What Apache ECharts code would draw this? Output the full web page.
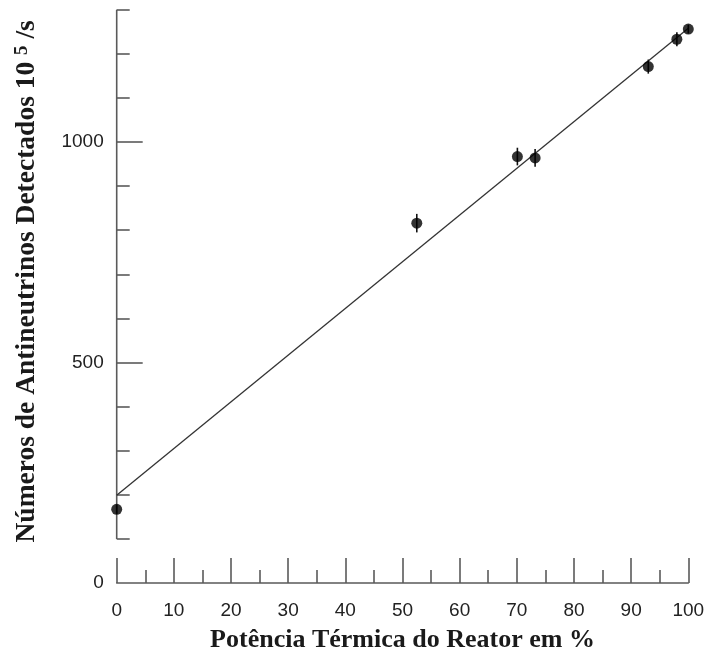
<!DOCTYPE html>
<html>
<head>
<meta charset="utf-8">
<script src="https://cdn.jsdelivr.net/npm/echarts@6/dist/echarts.min.js"></script>
<style>
  html, body { margin: 0; padding: 0; background: #fff; }
  #chart { width: 706px; height: 655px; }
</style>
</head>
<body>
<div id="chart"></div>
<script>
// Measured detector counts versus reactor thermal power
const powerPct = [0, 52.5, 70.1, 73.2, 93.0, 98.0, 100.0];
const counts   = [167, 816, 967, 964, 1171, 1233, 1256];
const countErr = [10, 21, 20, 20, 16, 16, 10];

// Linear fit drawn across the full power range
const fitX = [0, 100];
const fitY = [199, 1258];

// Axis ticks and labels
const xTicks = [0, 10, 20, 30, 40, 50, 60, 70, 80, 90, 100];
const yMajorTicks = [0, 500, 1000];
const yMinorTicks = [100, 200, 300, 400, 600, 700, 800, 900, 1100, 1200, 1300];
const yAxisLineFrom = 100;
const yAxisLineTo = 1300;

const axisColor = '#5a5a5a';
const labelFont = '"Liberation Sans", Arial, sans-serif';
const titleFont = '"Liberation Serif", "Times New Roman", serif';

const chart = echarts.init(document.getElementById('chart'), null, { renderer: 'canvas' });

const option = {
  backgroundColor: '#ffffff',
  animation: false,
  grid: { left: 116.7, right: 17.7, top: 9.7, bottom: 72, outerBoundsMode: 'none', containLabel: false },
  xAxis: {
    type: 'value',
    min: xTicks[0],
    max: xTicks[xTicks.length - 1],
    interval: 10,
    name: 'Potência Térmica do Reator em %',
    nameLocation: 'middle',
    nameGap: 44,
    nameTextStyle: { fontFamily: titleFont, fontWeight: 'bold', fontSize: 26, color: '#1a1a1a' },
    axisLine: { show: true, onZero: false, lineStyle: { color: axisColor, width: 1.6 } },
    axisTick: { show: true, inside: true, length: 25, lineStyle: { color: axisColor, width: 1.6 } },
    minorTick: { show: true, splitNumber: 2, length: 13, lineStyle: { color: axisColor, width: 1.6 } },
    axisLabel: { fontFamily: labelFont, fontSize: 19, color: '#222', margin: 18 },
    splitLine: { show: false }
  },
  yAxis: [
    {
      type: 'value',
      min: 0,
      max: 1300,
      interval: 100,
      position: 'left',
      axisLine: { show: false },
      axisTick: { show: true, inside: true, length: 13, customValues: yMinorTicks,
                  lineStyle: { color: axisColor, width: 1.6 } },
      axisLabel: { show: false },
      splitLine: { show: false }
    },
    {
      type: 'value',
      min: 0,
      max: 1300,
      interval: 100,
      position: 'left',
      name: '{t|Números de Antineutrinos Detectados 10 }{sup|5}{t| /s}',
      nameLocation: 'middle',
      nameGap: 76,
      nameRotate: 90,
      nameTextStyle: {
        padding: [0, 0, 0, 30],
        rich: {
          t: { fontFamily: titleFont, fontWeight: 'bold', fontSize: 27.5, color: '#1a1a1a' },
          sup: { fontFamily: titleFont, fontWeight: 'bold', fontSize: 19, color: '#1a1a1a', verticalAlign: 'top' }
        }
      },
      axisLine: { show: false },
      axisTick: { show: true, inside: true, length: 26, customValues: yMajorTicks.filter(v => v > 0),
                  lineStyle: { color: axisColor, width: 1.6 } },
      axisLabel: { customValues: yMajorTicks, formatter: v => String(v),
                   fontFamily: labelFont, fontSize: 19, color: '#222', margin: 13 },
      splitLine: { show: false }
    }
  ],
  series: [
    {
      name: 'ajuste',
      type: 'line',
      data: fitX.map((x, i) => [x, fitY[i]]),
      showSymbol: false,
      symbol: 'none',
      lineStyle: { color: '#333', width: 1.3 },
      z: 2
    },
    {
      name: 'erro',
      type: 'custom',
      data: powerPct.map((x, i) => [x, counts[i], countErr[i]]),
      renderItem: function (params, api) {
        const x = api.value(0), y = api.value(1), e = api.value(2);
        const lo = api.coord([x, y - e]);
        const hi = api.coord([x, y + e]);
        return {
          type: 'line',
          shape: { x1: lo[0], y1: lo[1], x2: hi[0], y2: hi[1] },
          style: { stroke: '#111', lineWidth: 1.6 }
        };
      },
      z: 3
    },
    {
      name: 'medidas',
      type: 'scatter',
      data: powerPct.map((x, i) => [x, counts[i]]),
      symbol: 'circle',
      symbolSize: 11,
      itemStyle: { color: '#000' },
      z: 4
    }
  ]
};

chart.setOption(option);

// Vertical axis line, which starts at the first minor tick
const pFrom = chart.convertToPixel({ xAxisIndex: 0, yAxisIndex: 0 }, [0, yAxisLineFrom]);
const pTo = chart.convertToPixel({ xAxisIndex: 0, yAxisIndex: 0 }, [0, yAxisLineTo]);
chart.setOption({
  graphic: [{
    type: 'line',
    shape: { x1: pFrom[0], y1: pFrom[1], x2: pTo[0], y2: pTo[1] },
    style: { stroke: axisColor, lineWidth: 1.6 },
    z: 1
  }]
});
</script>
</body>
</html>
